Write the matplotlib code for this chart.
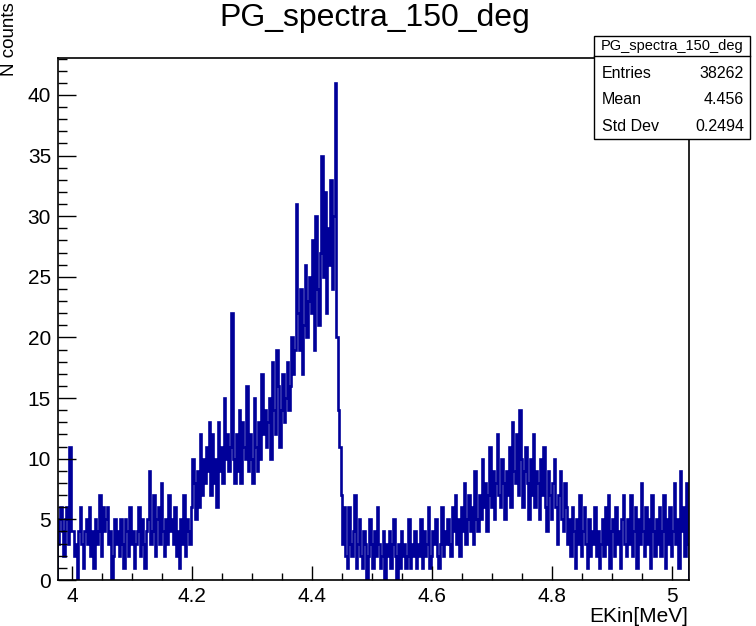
import numpy as np
import matplotlib.pyplot as plt
from matplotlib.patches import Rectangle

plt.rcParams['font.family'] = ['Liberation Sans', 'DejaVu Sans']

# histogram binning (MeV)
x_start = 3.975
bin_width = 0.0025

# counts per bin (20 bins = 0.05 MeV per row)
counts = [
    3, 5, 6, 4, 2, 5, 6, 3, 11, 4, 4, 2, 3, 0, 4, 6, 3, 1, 4, 5,
    3, 6, 2, 4, 1, 5, 3, 4, 7, 2, 6, 4, 5, 6, 3, 4, 0, 2, 5, 3,
    4, 2, 5, 3, 1, 5, 4, 2, 6, 3, 4, 1, 3, 4, 6, 2, 5, 3, 1, 4,
    5, 9, 3, 4, 7, 2, 5, 6, 3, 8, 4, 2, 5, 3, 7, 4, 5, 3, 6, 2,
    4, 1, 5, 3, 7, 2, 5, 4, 3, 6, 10, 8, 5, 9, 6, 12, 7, 10, 8, 11,
    9, 13, 7, 12, 8, 10, 6, 13, 9, 11, 8, 15, 10, 12, 9, 11, 22, 10, 8, 12,
    9, 14, 8, 13, 11, 10, 16, 9, 12, 10, 8, 15, 11, 9, 13, 10, 17, 12, 14, 11,
    13, 15, 10, 18, 14, 12, 19, 16, 11, 14, 17, 13, 15, 18, 14, 16, 20, 17, 19, 31,
    22, 19, 24, 17, 21, 26, 20, 23, 25, 22, 28, 19, 30, 24, 21, 27, 35, 25, 32, 22,
    29, 26, 33, 24, 30, 41, 20, 14, 11, 7, 3, 6, 2, 1, 6, 3, 2, 4, 7, 1,
    3, 5, 2, 1, 4, 3, 0, 2, 5, 3, 1, 4, 2, 6, 3, 1, 2, 4, 0, 3,
    2, 4, 1, 3, 5, 2, 0, 3, 1, 4, 2, 3, 1, 2, 5, 1, 3, 2, 4, 1,
    3, 2, 5, 1, 4, 2, 3, 6, 1, 2, 4, 3, 5, 2, 1, 3, 6, 2, 4, 3,
    5, 3, 2, 6, 4, 7, 3, 5, 2, 6, 4, 8, 3, 5, 7, 4, 6, 3, 9, 5,
    4, 7, 5, 10, 6, 8, 4, 7, 11, 6, 9, 5, 8, 12, 7, 6, 10, 8, 5, 9,
    7, 11, 6, 13, 9, 8, 12, 7, 14, 10, 6, 9, 11, 8, 5, 10, 7, 12, 6, 9,
    8, 5, 10, 7, 11, 6, 4, 9, 7, 5, 8, 10, 6, 3, 7, 9, 5, 4, 8, 6,
    3, 5, 2, 6, 4, 1, 5, 3, 7, 2, 4, 6, 3, 1, 5, 2, 4, 3, 6, 2,
    4, 1, 3, 5, 2, 6, 3, 7, 1, 4, 5, 2, 6, 3, 4, 1, 5, 7, 3, 2,
    5, 3, 7, 2, 4, 6, 1, 5, 3, 8, 4, 2, 6, 3, 5, 1, 7, 4, 2, 5,
    3, 6, 2, 4, 7, 1, 5, 3, 6, 2, 4, 8, 3, 5, 1, 9, 4, 6, 2, 8,
    3,
]

stats_labels = ["Entries", "Mean", "Std Dev"]
stats_values = ["38262", "4.456", "0.2494"]
hist_name = "PG_spectra_150_deg"

edges = x_start + bin_width * np.arange(len(counts) + 1)

W, H = 756, 626
fig = plt.figure(figsize=(W / 100, H / 100), dpi=100)
ax = fig.add_axes([58 / W, 1 - 580 / H, 631 / W, 522 / H])

ax.stairs(counts, edges, baseline=0, color="#000099", linewidth=1.9)

ax.set_xlim(3.976, 5.028)
ax.set_ylim(0, max(counts) * 1.05)

ax.set_xticks([4.0, 4.2, 4.4, 4.6, 4.8, 5.0])
ax.set_xticklabels(["4", "4.2", "4.4", "4.6", "4.8", "5"])
ax.set_xticks(np.arange(4.0, 5.03, 0.05), minor=True)
ax.set_yticks(np.arange(0, 41, 5))
ax.set_yticks(np.arange(0, 44, 1), minor=True)

ax.tick_params(axis="both", which="both", direction="in", top=False, right=False,
               labelsize=15, width=1.0, colors="black")
ax.tick_params(axis="x", which="major", length=10, pad=5)
ax.tick_params(axis="x", which="minor", length=5)
ax.tick_params(axis="y", which="major", length=13, pad=5)
ax.tick_params(axis="y", which="minor", length=6.5)
for s in ax.spines.values():
    s.set_linewidth(1.2)

fig.text(375 / W, 1 - 18 / H, hist_name, ha="center", va="center", fontsize=23)
fig.text(688 / W, 1 - 617 / H, "EKin[MeV]", ha="right", va="center", fontsize=15)
fig.text(1 / W, 1 - 2 / H, "N counts", ha="left", va="top", rotation=90, fontsize=13.5)

# stats box
bx0, bx1 = 594 / W, 750 / W
by_top, by_mid, by_bot = 1 - 36 / H, 1 - 56 / H, 1 - 139 / H
fig.patches.append(Rectangle((bx0, by_bot), bx1 - bx0, by_top - by_bot, transform=fig.transFigure,
                             facecolor="white", edgecolor="black", linewidth=1.0, zorder=5))
fig.lines.append(plt.Line2D([bx0, bx1], [by_mid, by_mid], transform=fig.transFigure,
                            color="black", linewidth=1.0, zorder=6))
fig.text((bx0 + bx1) / 2, (by_top + by_mid) / 2, hist_name, ha="center", va="center",
         fontsize=10.5, zorder=7)
row_y = [74, 100, 126]
for lab, val, y in zip(stats_labels, stats_values, row_y):
    fig.text(602 / W, 1 - y / H, lab, ha="left", va="center", fontsize=11.5, zorder=7)
    fig.text(744 / W, 1 - y / H, val, ha="right", va="center", fontsize=11.5, zorder=7)

fig.savefig("out.png", dpi=100)
